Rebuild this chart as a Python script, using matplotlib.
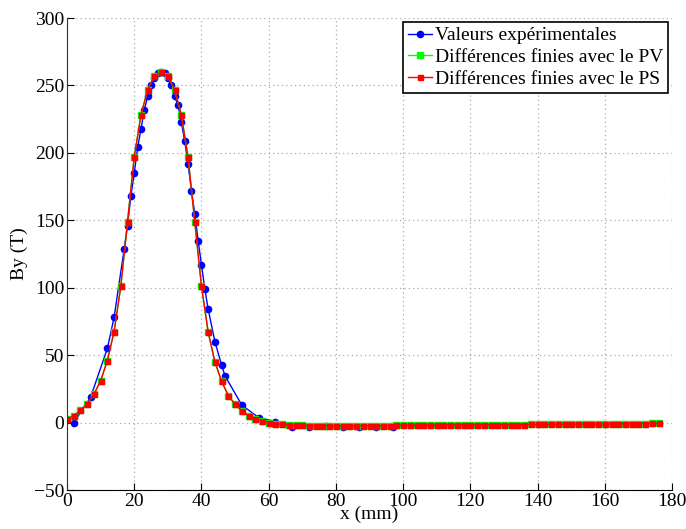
import numpy as np
import matplotlib
matplotlib.use('Agg')
import matplotlib.pyplot as plt

# experimental points
x_exp = [2, 7, 12, 14, 17, 18, 19, 20, 21, 22, 23, 24, 25, 26, 27, 28, 29, 30, 31, 32,
         33, 34, 35, 36, 37, 38, 39, 40, 41, 42, 44, 46, 47, 52, 57, 62, 67, 72, 77, 82,
         87, 92, 97]
by_exp = [0, 18.7, 55, 78, 128.6, 146, 168, 185, 204, 217.6, 232, 242, 250, 255.5, 259, 260,
          259, 255.5, 250.5, 242, 235.7, 223, 209, 192, 172, 155, 135, 117, 99, 84,
          60, 42.5, 34.6, 13, 3.7, 0.8, -3, -3.4, -2.2, -3, -3, -3.4, -3]

# finite differences, 2 mm grid
x_sim = np.arange(0, 177, 2)
by_pv = [2.5, 5, 9, 14, 21, 31, 46, 67.5, 101, 149, 197, 228, 247, 257, 260,
         257, 247, 228, 197, 149, 101, 67, 45, 30.5, 20, 13.5, 8.7, 5, 2.7, 1.3,
         0, -0.7, -1.2, -1.7, -2.0,
         -2.1, -2.2, -2.2, -2.3, -2.3, -2.3, -2.3, -2.3, -2.3, -2.3,
         -2.2, -2.2, -2.2, -2.2, -2.1, -2.1, -2.0, -2.0, -2.0, -1.9,
         -1.9, -1.9, -1.8, -1.8, -1.8, -1.7, -1.7, -1.7, -1.6, -1.6,
         -1.6, -1.5, -1.5, -1.5, -1.4, -1.4, -1.3, -1.3, -1.3, -1.2,
         -1.2, -1.1, -1.1, -1.0, -1.0, -1.0, -0.9, -0.9, -0.8, -0.8,
         -0.7, -0.7, -0.6, -0.6]
by_ps = [2.5, 5, 9, 14, 21, 31, 46, 67.5, 101, 149, 197, 228, 247, 257, 260,
         257, 247, 228, 197, 149, 101, 67, 45, 30.5, 20, 13.5, 8.7, 5, 2.7, 1.3,
         0, -0.7, -1.2, -1.7, -2.0,
         -2.1, -2.2, -2.2, -2.3, -2.3, -2.3, -2.3, -2.3, -2.3, -2.3,
         -2.2, -2.2, -2.2, -2.2, -2.1, -2.1, -2.0, -2.0, -2.0, -1.9,
         -1.9, -1.9, -1.8, -1.8, -1.8, -1.7, -1.7, -1.7, -1.6, -1.6,
         -1.6, -1.5, -1.5, -1.5, -1.4, -1.4, -1.3, -1.3, -1.3, -1.2,
         -1.2, -1.1, -1.1, -1.0, -1.0, -1.0, -0.9, -0.9, -0.8, -0.8,
         -0.7, -0.7, -0.6, -0.6]

labels = ['Valeurs expérimentales', 'Différences finies avec le PV', 'Différences finies avec le PS']

plt.rcParams['font.family'] = ['Liberation Serif', 'DejaVu Serif']
plt.rcParams['font.size'] = 14

fig = plt.figure(figsize=(6.86, 5.29), dpi=100)
ax = fig.add_axes([0.0977, 0.0737, 0.882, 0.8922])

ax.plot(x_exp, by_exp, '-o', color='#0000ff', lw=1, ms=4.5, label=labels[0])
ax.plot(x_sim, by_pv, '-s', color='#00ff00', lw=1, ms=4.5, label=labels[1])
ax.plot(x_sim, by_ps, '-s', color='#ff0000', lw=1, ms=3.6, label=labels[2])

ax.set_xlim(0, 180)
ax.set_ylim(-50, 300)
ax.set_xticks(np.arange(0, 181, 20))
ax.set_yticks(np.arange(-50, 301, 50))
ax.grid(True, linestyle=(0, (1, 2.5)), color='#aaaaaa', lw=0.9)
ax.set_axisbelow(True)
ax.spines['top'].set_visible(False)
ax.spines['right'].set_visible(False)
ax.spines['left'].set_color('#333333')
ax.tick_params(direction='in', length=5, pad=2)

ax.set_xlabel('x (mm)', labelpad=-3)
ax.set_ylabel('By (T)', labelpad=4)

leg = ax.legend(loc='upper right', fancybox=False, framealpha=1, edgecolor='black',
                numpoints=1, handlelength=1.25, handletextpad=0.15, borderpad=0.25,
                labelspacing=0.22, borderaxespad=0.2)
leg.get_frame().set_linewidth(1.2)

fig.savefig('out.png', dpi=100)
